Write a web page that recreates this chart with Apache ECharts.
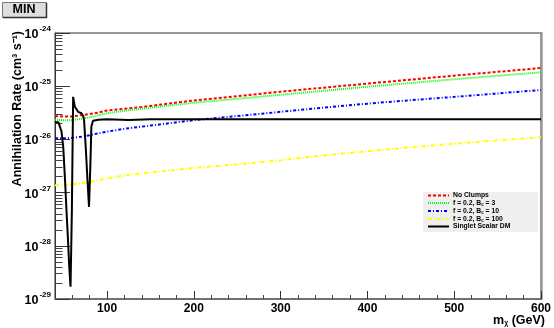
<!DOCTYPE html>
<html><head><meta charset="utf-8">
<script src="https://cdn.jsdelivr.net/npm/echarts@6/dist/echarts.min.js"></script>
<style>html,body{margin:0;padding:0;background:#fff}#c{width:554px;height:328px}</style>
</head><body><div id="c"></div>
<script>
// ---- data, annihilation rate in cm^3 s^-1 ----
const massSmooth = [40,50,60,70,80,90,100,120,150,200,250,300,350,400,450,500,550,600];
const noClumps   = [2.75e-26,2.7e-26,2.7e-26,2.85e-26,3.0e-26,3.2e-26,3.5e-26,3.75e-26,4.25e-26,5.4e-26,6.5e-26,7.9e-26,9.4e-26,1.12e-25,1.33e-25,1.58e-25,1.86e-25,2.2e-25];
const clumpsB3   = [2.34e-26,2.3e-26,2.3e-26,2.45e-26,2.6e-26,2.85e-26,3.1e-26,3.45e-26,3.95e-26,4.9e-26,5.8e-26,6.9e-26,8.2e-26,9.8e-26,1.15e-25,1.35e-25,1.57e-25,1.82e-25];
const clumpsB10  = [1.05e-26,1.05e-26,1.07e-26,1.12e-26,1.2e-26,1.3e-26,1.4e-26,1.58e-26,1.82e-26,2.3e-26,2.75e-26,3.3e-26,3.95e-26,4.7e-26,5.45e-26,6.3e-26,7.3e-26,8.5e-26];
const clumpsB100 = [1.38e-27,1.38e-27,1.42e-27,1.5e-27,1.58e-27,1.7e-27,1.85e-27,2.1e-27,2.4e-27,2.9e-27,3.4e-27,4.07e-27,5.0e-27,6.0e-27,7.1e-27,8.3e-27,9.6e-27,1.1e-26];

const massSinglet = [40,44,45.7,47.5,49.5,51.5,53.4,55,56.4,57.9,59.4,60.9,62.9,66.6,70.5,72.5,73.5,75.4,77.4,79.2,80.8,81.9,83.8,90,100,125,150,200,250,300,350,400,450,500,550,600];
const singlet     = [2.09e-26,2.09e-26,2.0e-26,1.41e-26,7.2e-27,1.78e-27,4.1e-28,1.26e-28,4.1e-29,1.7e-29,4.1e-28,6.3e-26,4.1e-26,3.3e-26,3.1e-26,2.75e-26,2.3e-26,7.2e-27,1.74e-27,5.4e-28,3.5e-27,1.74e-26,2.24e-26,2.34e-26,2.4e-26,2.32e-26,2.4e-26,2.4e-26,2.4e-26,2.4e-26,2.4e-26,2.4e-26,2.4e-26,2.4e-26,2.4e-26,2.4e-26];

const seriesNames = ['No Clumps','f = 0.2, B_c = 3','f = 0.2, B_c = 10','f = 0.2, B_c = 100','Singlet Scalar DM'];
const xMajorTicks = [100,200,300,400,500,600];
const xMinorTicks = [60,80,120,140,160,180,220,240,260,280,320,340,360,380,420,440,460,480,520,540,560,580];
const yDecadeExponents = [-29,-28,-27,-26,-25,-24];
const yMinorMultipliers = [2,3,4,5,6,7,8,9];

// The log axis runs in units of 1e-29 (ECharts' log scale loses precision at ~1e-29);
// labels are rebuilt as the true powers of ten.
const Y_UNIT_EXP = yDecadeExponents[0];
const Y_UNIT = Math.pow(10, Y_UNIT_EXP);
const toAxis = v => v / Y_UNIT;
const yMinorTicks = [];
yDecadeExponents.slice(0,-1).forEach(e => yMinorMultipliers.forEach(k => yMinorTicks.push(e + Math.log10(k))));

const FONT = "'Liberation Sans', Arial, sans-serif";
const pair = (xs, ys) => xs.map((x,i)=>[x, toAxis(ys[i])]);

const chart = echarts.init(document.getElementById('c'), null, {renderer:'canvas'});
const xBase = {type:'value', min:40, max:600, splitLine:{show:false}};
const eMin = yDecadeExponents[0], eMax = yDecadeExponents[yDecadeExponents.length-1];

chart.setOption({
  animation:false,
  backgroundColor:'#fff',
  grid:{left:55, right:9, top:33, bottom:29, show:true, borderColor:'#333', borderWidth:1, backgroundColor:'transparent'},
  xAxis:[
    Object.assign({}, xBase, {
      position:'bottom',
      axisLine:{show:true, onZero:false, lineStyle:{color:'#666', width:1.5}},
      axisTick:{show:true, inside:true, length:8, customValues:xMajorTicks, lineStyle:{color:'#333'}},
      axisLabel:{show:true, customValues:xMajorTicks, margin:4, color:'#000', fontFamily:FONT, fontWeight:'bold', fontSize:12}
    }),
    Object.assign({}, xBase, {
      position:'bottom', offset:0,
      axisLine:{show:false},
      axisTick:{show:true, inside:true, length:4, customValues:xMinorTicks, lineStyle:{color:'#444'}},
      axisLabel:{show:false}
    })
  ],
  yAxis:[
    {
      type:'log', min:toAxis(Math.pow(10,eMin)), max:toAxis(Math.pow(10,eMax)), logBase:10, splitNumber:5, position:'left',
      splitLine:{show:false},
      axisLine:{show:true, onZero:false, lineStyle:{color:'#333', width:1}},
      axisTick:{show:true, inside:true, length:15, lineStyle:{color:'#333'}},
      minorTick:{show:false},
      axisLabel:{show:true, margin:4, fontFamily:FONT, showMinLabel:true, showMaxLabel:true,
        formatter:function(v){ const e = Math.round(Math.log10(v)) + Y_UNIT_EXP; return '{b|10}{s|' + e + '}'; },
        rich:{ b:{fontSize:12.5, fontWeight:'bold', fontFamily:FONT, color:'#000', lineHeight:16, verticalAlign:'bottom'},
               s:{fontSize:8, fontWeight:'bold', fontFamily:FONT, color:'#000', lineHeight:16, verticalAlign:'top', padding:[0,0,7,1]} }
      }
    },
    {
      type:'value', min:eMin, max:eMax, position:'left', offset:0,
      splitLine:{show:false},
      axisLine:{show:false},
      axisTick:{show:true, inside:true, length:7.5, customValues:yMinorTicks, lineStyle:{color:'#444'}},
      axisLabel:{show:false}
    },
    {
      type:'value', min:eMin, max:eMax, position:'right', offset:0,
      splitLine:{show:false},
      axisLine:{show:true, onZero:false, lineStyle:{color:'#999', width:2.5}},
      axisTick:{show:false}, axisLabel:{show:false}
    }
  ],
  legend:{
    orient:'vertical', left:427, top:192, itemWidth:21, itemHeight:6, itemGap:0, padding:0,
    itemStyle:{color:'transparent', borderColor:'transparent', borderWidth:0, opacity:0},
    data:seriesNames,
    formatter:function(name){
      const m = name.match(/^(.*B)_c(.*)$/);
      if (m) return '{t|' + m[1] + '}{sub|c}{t|' + m[2] + '}';
      return '{t|' + name + '}';
    },
    textStyle:{ fontFamily:FONT, fontSize:6.8, fontWeight:'bold', color:'#000', padding:[0,0,0,-1],
      rich:{ t:{fontFamily:FONT, fontSize:6.8, fontWeight:'bold', color:'#000', lineHeight:8},
             sub:{fontFamily:FONT, fontSize:4.5, fontWeight:'bold', color:'#000', lineHeight:8, verticalAlign:'bottom', padding:[3,0,0,0]} } },
    z:10
  },
  graphic:[
    {type:'rect', z:5, left:423, top:192, shape:{width:115, height:40}, style:{fill:'#efefef', stroke:null}, silent:true},
    {type:'rect', z:5, left:2, top:2, shape:{width:44, height:15}, style:{fill:'#dedede', stroke:'#777', lineWidth:1}},
    {type:'line', z:6, shape:{x1:3, y1:17.5, x2:47, y2:17.5}, style:{stroke:'#333', lineWidth:1.5}},
    {type:'line', z:6, shape:{x1:46.5, y1:3, x2:46.5, y2:18}, style:{stroke:'#333', lineWidth:1.5}},
    {type:'text', z:7, x:24, y:10, style:{text:'MIN', fontFamily:FONT, fontWeight:'bold', fontSize:12.5, fill:'#000', align:'center', verticalAlign:'middle'}},
    {type:'text', z:7, x:18, y:31, rotation:Math.PI/2,
      style:{text:'Annihilation Rate (cm³ s⁻¹)', fontFamily:FONT, fontWeight:'bold', fontSize:12.5, fill:'#000', align:'right', verticalAlign:'middle'}},
    {type:'text', z:7, x:545, y:319,
      style:{text:'{m|m}{sub|χ}{m| (GeV)}', fontFamily:FONT, align:'right', verticalAlign:'middle',
        rich:{ m:{fontFamily:FONT, fontWeight:'bold', fontSize:12.5, fill:'#000', lineHeight:16, verticalAlign:'bottom'},
               sub:{fontFamily:FONT, fontWeight:'bold', fontSize:7, fill:'#000', lineHeight:16, verticalAlign:'bottom', padding:[5,0,0,0]} }}}
  ],
  series:[
    {name:seriesNames[0], type:'line', xAxisIndex:0, yAxisIndex:0, symbol:'none', data:pair(massSmooth,noClumps), z:2,
      lineStyle:{color:'#ff0000', width:2, type:[3,2]}, itemStyle:{color:'#ff0000'}},
    {name:seriesNames[1], type:'line', xAxisIndex:0, yAxisIndex:0, symbol:'none', data:pair(massSmooth,clumpsB3), z:2,
      lineStyle:{color:'#00ff00', width:2, type:[1,1]}, itemStyle:{color:'#00ff00'}},
    {name:seriesNames[2], type:'line', xAxisIndex:0, yAxisIndex:0, symbol:'none', data:pair(massSmooth,clumpsB10), z:2,
      lineStyle:{color:'#0000ff', width:2, type:[3,2,1,2]}, itemStyle:{color:'#0000ff'}},
    {name:seriesNames[3], type:'line', xAxisIndex:0, yAxisIndex:0, symbol:'none', data:pair(massSmooth,clumpsB100), z:2,
      lineStyle:{color:'#ffff00', width:2, type:[4,2,1,2]}, itemStyle:{color:'#ffff00'}},
    {name:seriesNames[4], type:'line', xAxisIndex:0, yAxisIndex:0, symbol:'none', data:pair(massSinglet,singlet), z:3,
      lineStyle:{color:'#000', width:2}, itemStyle:{color:'#000'}}
  ]
});
</script></body></html>
